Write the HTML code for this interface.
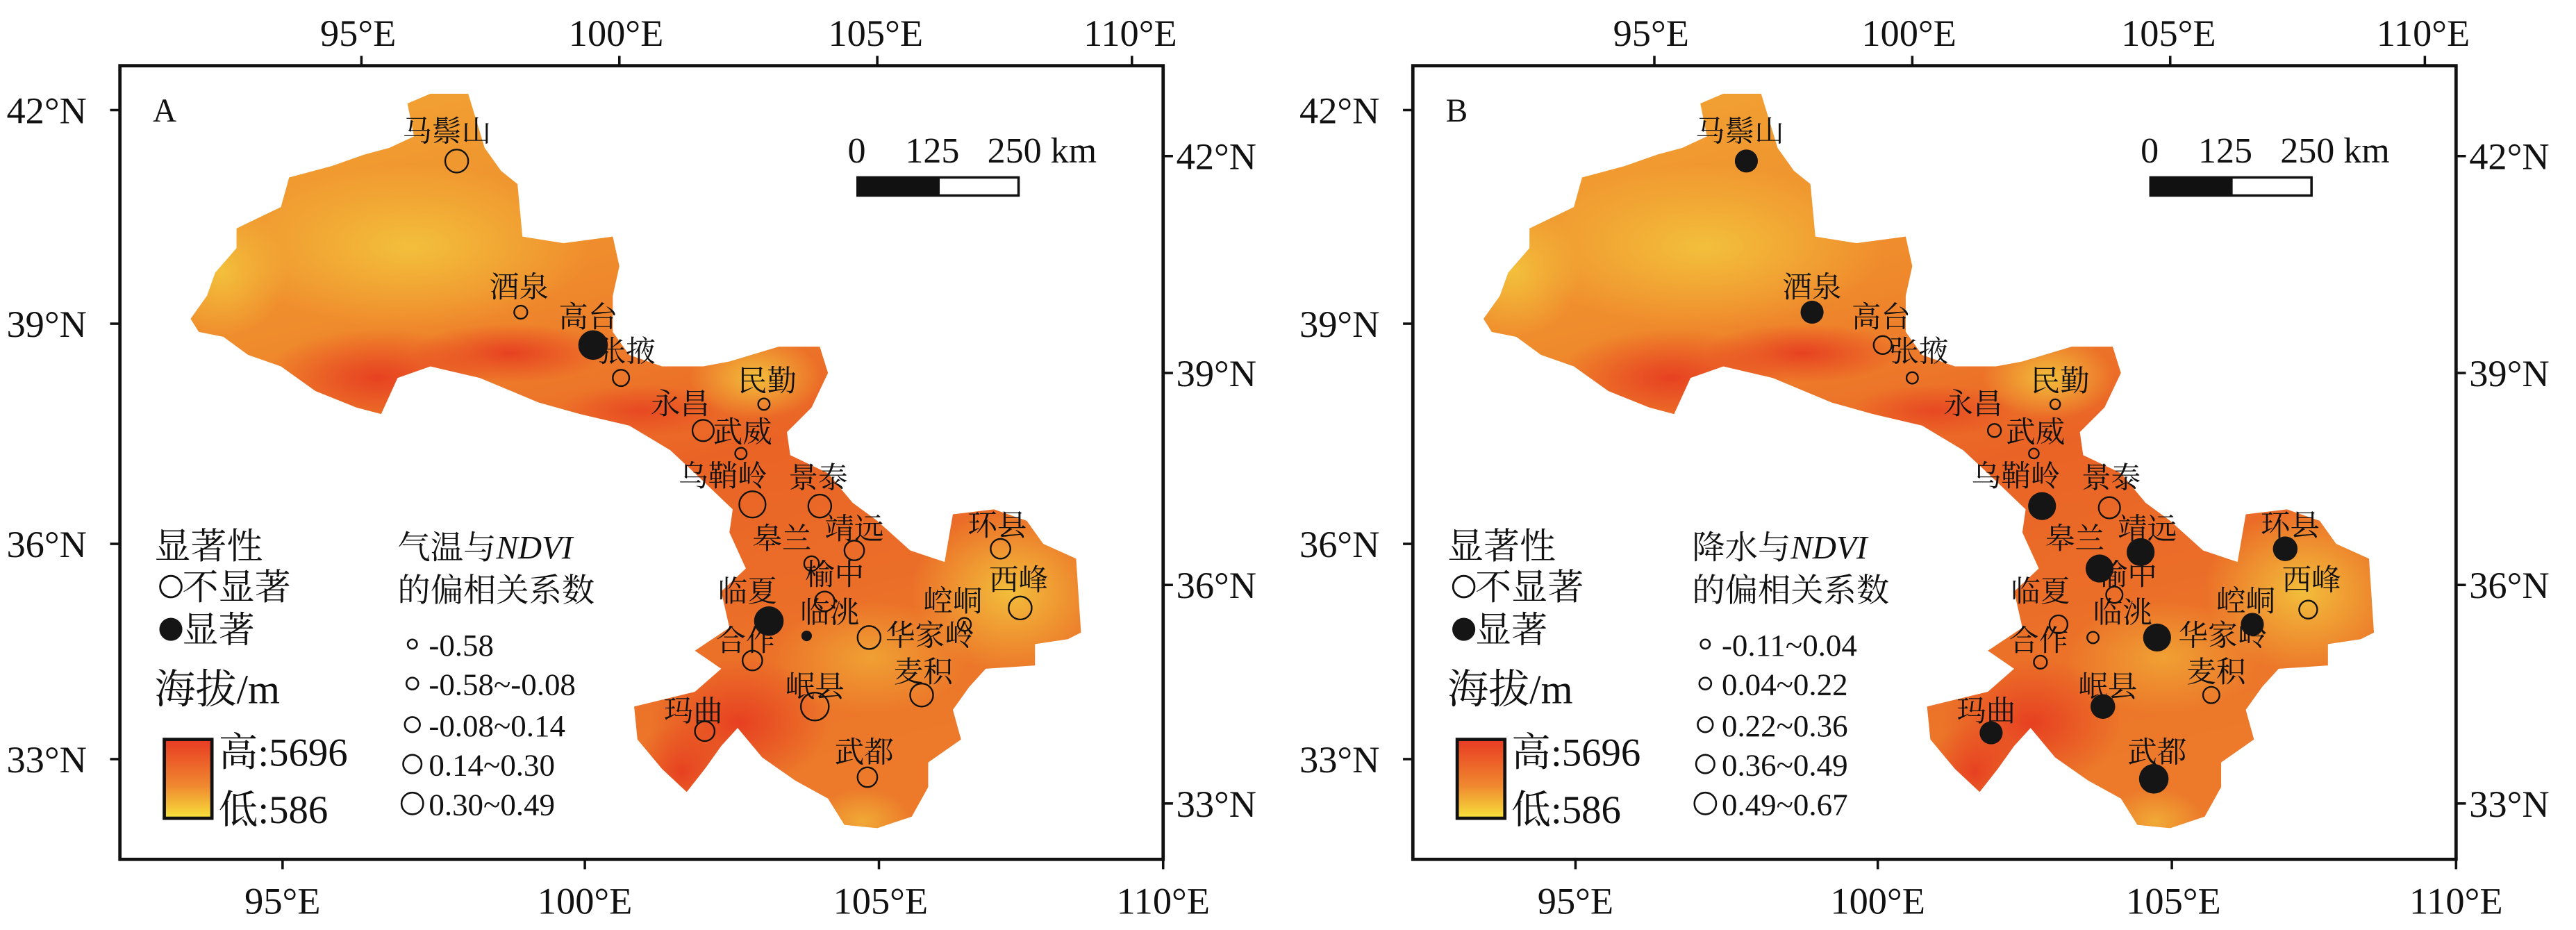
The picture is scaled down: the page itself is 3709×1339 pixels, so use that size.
<!DOCTYPE html>
<html><head><meta charset="utf-8"><style>html,body{margin:0;padding:0;background:#fff}svg{display:block}
text{font-family:"Liberation Serif","Noto Serif CJK SC",serif;fill:#111}</style></head><body>
<svg width="3709" height="1339" viewBox="0 0 1568 566" preserveAspectRatio="none" xmlns="http://www.w3.org/2000/svg">
<defs>
<linearGradient id="g1" x1="0" y1="0" x2="0.3" y2="1">
<stop offset="0" stop-color="#f2a634"/><stop offset="0.35" stop-color="#ef8a2c"/><stop offset="0.6" stop-color="#ea6326"/><stop offset="1" stop-color="#ec7a2a"/></linearGradient>
<linearGradient id="cb" x1="0" y1="0" x2="0" y2="1"><stop offset="0" stop-color="#e83a22"/><stop offset="0.6" stop-color="#f08a30"/><stop offset="1" stop-color="#f6e33a"/></linearGradient>
<radialGradient id="yel"><stop offset="0" stop-color="#f3c23c" stop-opacity="0.95"/><stop offset="1" stop-color="#f3c23c" stop-opacity="0"/></radialGradient>
<radialGradient id="red"><stop offset="0" stop-color="#e63a20" stop-opacity="0.9"/><stop offset="1" stop-color="#e63a20" stop-opacity="0"/></radialGradient>
<clipPath id="cp"><path d="M248,63 L262,57 L285,57 L295,90 L305,104 L315,112 L318,144 L343,148 L373,144 L377,162 L373,180 L373,202 L383,216 L403,223 L428,223 L444,220 L474,211 L499,211 L504,227 L494,248 L479,263 L481,277 L504,288 L519,306 L534,317 L554,335 L575,342 L580,313 L605,310 L625,317 L635,331 L655,340 L658,385 L650,389 L630,392 L630,405 L600,407 L590,418 L580,432 L585,450 L565,464 L565,479 L555,497 L534,504 L514,502 L504,486 L484,475 L464,461 L449,443 L439,454 L429,468 L418,482 L403,468 L388,450 L386,430 L423,421 L439,407 L423,396 L444,382 L439,360 L454,346 L444,324 L446,310 L423,288 L408,274 L383,259 L353,252 L328,245 L292,230 L262,223 L242,230 L232,252 L217,248 L192,238 L171,223 L151,216 L136,205 L121,202 L116,194 L126,180 L131,166 L144,151 L144,139 L171,126 L176,108 L202,101 L222,94 L237,90 L252,83 Z"/></clipPath>
<g id="panel">
<rect x="73" y="40" width="635" height="483" fill="#fff" stroke="#111" stroke-width="2"/>
<g clip-path="url(#cp)">
<rect x="100" y="50" width="580" height="470" fill="url(#g1)"/>
<ellipse cx="250" cy="150" rx="110" ry="50" fill="url(#yel)"/>
<ellipse cx="135" cy="165" rx="40" ry="40" fill="url(#yel)"/>
<ellipse cx="460" cy="230" rx="40" ry="25" fill="url(#yel)"/>
<ellipse cx="615" cy="360" rx="60" ry="50" fill="url(#yel)"/>
<ellipse cx="530" cy="400" rx="60" ry="35" fill="url(#yel)" opacity="0.6"/>
<ellipse cx="525" cy="500" rx="30" ry="20" fill="url(#yel)" opacity="0.7"/>
<ellipse cx="230" cy="230" rx="70" ry="30" fill="url(#red)"/>
<ellipse cx="310" cy="215" rx="60" ry="18" fill="url(#red)"/>
<ellipse cx="390" cy="250" rx="50" ry="16" fill="url(#red)" opacity="0.8"/>
<ellipse cx="450" cy="440" rx="55" ry="40" fill="url(#red)"/>
<ellipse cx="415" cy="470" rx="30" ry="30" fill="url(#red)"/>
</g>
<g stroke="#111" stroke-width="1.5">
<line x1="220" y1="40" x2="220" y2="34"/><line x1="377" y1="40" x2="377" y2="34"/><line x1="534" y1="40" x2="534" y2="34"/><line x1="689" y1="40" x2="689" y2="34"/>
<line x1="172" y1="523" x2="172" y2="529"/><line x1="356" y1="523" x2="356" y2="529"/><line x1="535" y1="523" x2="535" y2="529"/><line x1="708" y1="523" x2="708" y2="529"/>
<line x1="73" y1="67" x2="67" y2="67"/><line x1="73" y1="197" x2="67" y2="197"/><line x1="73" y1="331" x2="67" y2="331"/><line x1="73" y1="462" x2="67" y2="462"/>
<line x1="708" y1="95" x2="714" y2="95"/><line x1="708" y1="227" x2="714" y2="227"/><line x1="708" y1="356" x2="714" y2="356"/><line x1="708" y1="489" x2="714" y2="489"/>
</g>
<g font-size="23" text-anchor="middle">
<text x="218" y="28">95°E</text><text x="375" y="28">100°E</text><text x="533" y="28">105°E</text><text x="688" y="28">110°E</text>
<text x="172" y="556">95°E</text><text x="356" y="556">100°E</text><text x="536" y="556">105°E</text><text x="708" y="556">110°E</text>
</g>
<g font-size="23">
<text x="4" y="75">42°N</text><text x="4" y="205">39°N</text><text x="4" y="339">36°N</text><text x="4" y="470">33°N</text>
<text x="716" y="103">42°N</text><text x="716" y="235">39°N</text><text x="716" y="364">36°N</text><text x="716" y="497">33°N</text>
</g>
<g font-size="22"><text x="516" y="99">0</text><text x="551" y="99">125</text><text x="601" y="99">250 km</text></g>
<rect x="522" y="108" width="98" height="11" fill="#fff" stroke="#111" stroke-width="1.5"/><rect x="522" y="108" width="50" height="11" fill="#111"/>
<g font-size="22"><text x="94" y="340">显著性</text>
<text x="111" y="365">不显著</text><text x="111" y="391">显著</text></g>
<circle cx="104" cy="357" r="6.5" fill="none" stroke="#111" stroke-width="1.2"/>
<circle cx="104" cy="383" r="7" fill="#151515"/>
<text x="94" y="428" font-size="25">海拔/m</text>
<rect x="100" y="450" width="29" height="48" fill="url(#cb)" stroke="#111" stroke-width="2"/>
<g font-size="24"><text x="133" y="466">高:5696</text><text x="133" y="501">低:586</text></g>
</g>
</defs>
<use href="#panel"/>
<use href="#panel" transform="translate(787,0)"/>
<g font-size="20">
<text x="93" y="74">A</text>
<text x="880" y="74">B</text>
</g>
<g font-size="20"><text x="242" y="340">气温与<tspan font-style="italic">NDVI</tspan></text><text x="242" y="366">的偏相关系数</text>
<text x="1030" y="340">降水与<tspan font-style="italic">NDVI</tspan></text><text x="1030" y="366">的偏相关系数</text></g>
<g fill="none" stroke="#111" stroke-width="1.1">
<circle cx="251" cy="392" r="2.8"/><circle cx="251" cy="416" r="3.6"/><circle cx="251" cy="441" r="4.6"/><circle cx="251" cy="465" r="5.6"/><circle cx="251" cy="489" r="6.6"/>
<circle cx="1038" cy="392" r="2.8"/><circle cx="1038" cy="416" r="3.6"/><circle cx="1038" cy="441" r="4.6"/><circle cx="1038" cy="465" r="5.6"/><circle cx="1038" cy="489" r="6.6"/>
</g>
<g font-size="19"><text x="261" y="399">-0.58</text><text x="261" y="423">-0.58~-0.08</text><text x="261" y="448">-0.08~0.14</text><text x="261" y="472">0.14~0.30</text><text x="261" y="496">0.30~0.49</text>
<text x="1048" y="399">-0.11~0.04</text><text x="1048" y="423">0.04~0.22</text><text x="1048" y="448">0.22~0.36</text><text x="1048" y="472">0.36~0.49</text><text x="1048" y="496">0.49~0.67</text></g>
<g font-size="18" text-anchor="middle">
<text x="272" y="86">马鬃山</text><text x="316" y="181">酒泉</text><text x="358" y="199">高台</text><text x="381" y="220">张掖</text><text x="467" y="238">民勤</text><text x="414" y="252">永昌</text><text x="452" y="269">武威</text><text x="440" y="296">乌鞘岭</text><text x="498" y="297">景泰</text><text x="520" y="328">靖远</text><text x="476" y="334">皋兰</text><text x="508" y="356">榆中</text><text x="455" y="366">临夏</text><text x="505" y="379">临洮</text><text x="454" y="396">合作</text><text x="566" y="393">华家岭</text><text x="580" y="372">崆峒</text><text x="607" y="326">环县</text><text x="620" y="359">西峰</text><text x="562" y="415">麦积</text><text x="496" y="424">岷县</text><text x="422" y="439">玛曲</text><text x="526" y="464">武都</text>
</g>
<g fill="none" stroke="#111" stroke-width="1">
<circle cx="278" cy="98" r="7"/><circle cx="317" cy="190" r="4"/><circle cx="378" cy="230" r="5"/><circle cx="465" cy="246" r="3.5"/><circle cx="428" cy="262" r="6.5"/><circle cx="451" cy="276" r="3.5"/><circle cx="458" cy="307" r="8"/><circle cx="499" cy="308" r="7"/><circle cx="520" cy="335" r="6"/><circle cx="494" cy="343" r="4.5"/><circle cx="502" cy="366" r="6"/><circle cx="458" cy="402" r="6"/><circle cx="529" cy="388" r="7"/><circle cx="587" cy="380" r="4"/><circle cx="609" cy="334" r="6"/><circle cx="621" cy="370" r="7"/><circle cx="561" cy="423" r="7"/><circle cx="496" cy="430" r="8.5"/><circle cx="429" cy="445" r="6"/><circle cx="528" cy="473" r="6"/>
</g>
<g fill="#151515"><circle cx="361" cy="210" r="9"/><circle cx="468" cy="378" r="9"/><circle cx="491" cy="387" r="3.2"/></g>
<g font-size="18" text-anchor="middle">
<text x="1059" y="86">马鬃山</text><text x="1103" y="181">酒泉</text><text x="1145" y="199">高台</text><text x="1168" y="220">张掖</text><text x="1254" y="238">民勤</text><text x="1201" y="252">永昌</text><text x="1239" y="269">武威</text><text x="1227" y="296">乌鞘岭</text><text x="1285" y="297">景泰</text><text x="1307" y="328">靖远</text><text x="1263" y="334">皋兰</text><text x="1295" y="356">榆中</text><text x="1242" y="366">临夏</text><text x="1292" y="379">临洮</text><text x="1241" y="396">合作</text><text x="1353" y="393">华家岭</text><text x="1367" y="372">崆峒</text><text x="1394" y="326">环县</text><text x="1407" y="359">西峰</text><text x="1349" y="415">麦积</text><text x="1283" y="424">岷县</text><text x="1209" y="439">玛曲</text><text x="1313" y="464">武都</text>
</g>
<g fill="none" stroke="#111" stroke-width="1">
<circle cx="1146" cy="210" r="5.5"/><circle cx="1164" cy="230" r="3.5"/><circle cx="1251" cy="246" r="3"/><circle cx="1214" cy="262" r="4"/><circle cx="1238" cy="276" r="3"/><circle cx="1284" cy="309" r="6.5"/><circle cx="1287" cy="362" r="5"/><circle cx="1253" cy="380" r="5.5"/><circle cx="1274" cy="388" r="3.5"/><circle cx="1242" cy="403" r="4"/><circle cx="1405" cy="371" r="5.5"/><circle cx="1346" cy="423" r="5"/>
</g>
<g fill="#151515"><circle cx="1063" cy="98" r="7"/><circle cx="1103" cy="190" r="7"/><circle cx="1243" cy="308" r="8.5"/><circle cx="1303" cy="336" r="8.5"/><circle cx="1278" cy="346" r="8.5"/><circle cx="1313" cy="388" r="8.5"/><circle cx="1371" cy="380" r="7"/><circle cx="1391" cy="334" r="7.5"/><circle cx="1280" cy="430" r="7.5"/><circle cx="1212" cy="446" r="7"/><circle cx="1311" cy="474" r="9"/></g>
</svg>
</body></html>
